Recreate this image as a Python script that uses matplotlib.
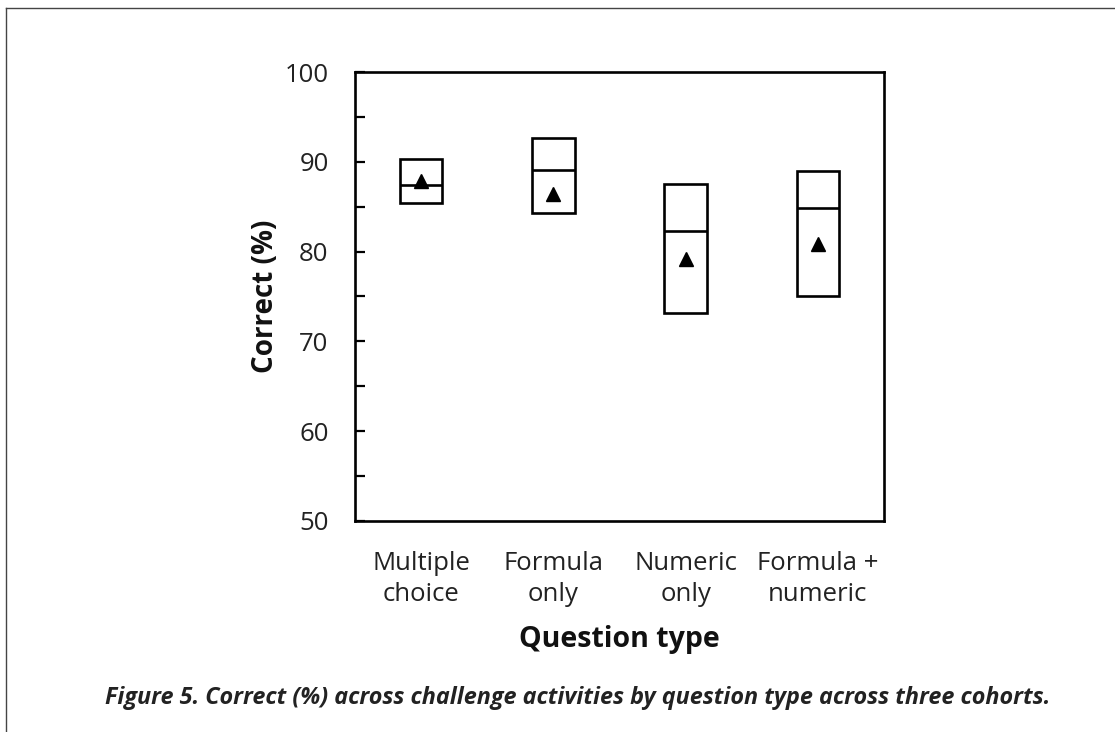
import numpy as np
import matplotlib.pyplot as plt
from matplotlib.lines import Line2D

# Valores (percentual de acertos por tipo de questão)
categorias = ['Multiple\nchoice', 'Formula\nonly', 'Numeric\nonly', 'Formula +\nnumeric']
q_inferior = [85.4, 84.3, 73.2, 75.0]
q_superior = [90.3, 92.7, 87.5, 89.0]
mediana = [87.4, 89.1, 82.3, 84.9]
media = [87.9, 86.4, 79.2, 80.9]

fig = plt.figure(figsize=(11.15, 7.32), dpi=100)
ax = fig.add_axes([0.3184, 0.2887, 0.4744, 0.6125])

x = np.arange(len(categorias))
largura = 0.32

# Caixas (quartis)
ax.bar(x, np.array(q_superior) - np.array(q_inferior), bottom=q_inferior,
       width=largura, fill=False, edgecolor='black', linewidth=1.9)
# Mediana
ax.hlines(mediana, x - largura / 2, x + largura / 2, color='black', linewidth=1.9)
# Média
ax.plot(x, media, linestyle='none', marker='^', color='black', markersize=9.5)

ax.set_xlim(-0.5, len(categorias) - 0.5)
ax.set_ylim(50, 100)
ax.set_yticks(np.arange(50, 101, 10))
ax.set_yticks(np.arange(55, 100, 10), minor=True)
ax.set_xticks(x)
ax.set_xticklabels(categorias, fontsize=18.5, family='Open Sans', color='#222222',
                   linespacing=1.3)
ax.tick_params(axis='y', which='both', direction='in', length=7, width=1.6,
               pad=19, labelsize=18.5, labelcolor='#222222')
ax.tick_params(axis='x', length=0, pad=22)
for lbl in ax.get_yticklabels():
    lbl.set_family('Open Sans')

for s in ax.spines.values():
    s.set_linewidth(1.9)

ax.set_ylabel('Correct (%)', fontsize=20, fontweight='bold', family='Open Sans',
              color='#111111', labelpad=3)
ax.set_xlabel('Question type', fontsize=20.5, fontweight='bold', family='Open Sans',
              color='#111111', labelpad=13)

# Legenda da figura
fig.text(0.518, 0.047, 'Figure 5. Correct (%) across challenge activities by question type across three cohorts.',
         ha='center', va='center', fontsize=16.8, fontweight='bold', style='italic',
         family='Open Sans', color='#222222')

# Moldura parcial (topo e esquerda)
fig.add_artist(Line2D([0.005, 1.0], [0.989, 0.989], transform=fig.transFigure,
                      color='#444444', linewidth=1.0))
fig.add_artist(Line2D([0.005, 0.005], [0.0, 0.989], transform=fig.transFigure,
                      color='#444444', linewidth=1.0))

fig.savefig('out.png', dpi=100)
